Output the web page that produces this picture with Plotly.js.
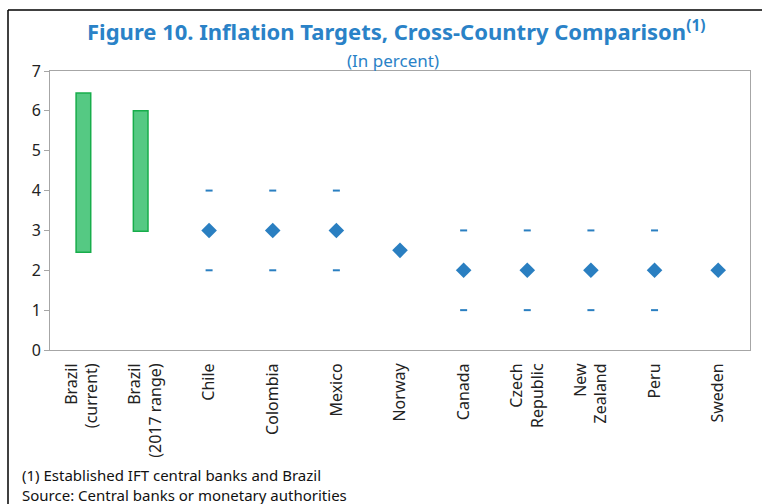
<!DOCTYPE html>
<html>
<head>
<meta charset="utf-8">
<script src="https://cdn.plot.ly/plotly-3.0.1.min.js"></script>
<style>html,body{margin:0;padding:0;background:#fff}#chart{width:762px;height:504px}</style>
</head>
<body>
<div id="chart"></div>
<script>
// Categories
const categories = ["Brazil<br>(current)", "Brazil<br>(2017 range)", "Chile", "Colombia", "Mexico", "Norway", "Canada", "Czech<br>Republic", "New<br>Zealand", "Peru", "Sweden"];
// Brazil range bars
const rangeCats = ["Brazil<br>(current)", "Brazil<br>(2017 range)"];
const rangeLow = [2.45, 2.98];
const rangeHigh = [6.45, 6.0];
// Point targets
const targetCats = ["Chile", "Colombia", "Mexico", "Norway", "Canada", "Czech<br>Republic", "New<br>Zealand", "Peru", "Sweden"];
const targetValues = [3, 3, 3, 2.5, 2, 2, 2, 2, 2];
// Tolerance bands
const bandCats = ["Chile", "Colombia", "Mexico", "Canada", "Czech<br>Republic", "New<br>Zealand", "Peru"];
const bandUpper = [4, 4, 4, 3, 3, 3, 3];
const bandLower = [2, 2, 2, 1, 1, 1, 1];

const blue = "#2a7fc1";
const font = "'Noto Sans', 'Open Sans', sans-serif";

const traces = [
  {
    type: "bar",
    x: rangeCats,
    y: rangeHigh.map((h, i) => h - rangeLow[i]),
    base: rangeLow,
    width: 0.23,
    offset: [-0.09, -0.19],
    marker: {color: "#55c983", line: {color: "#17ad4b", width: 1.5}},
    hoverinfo: "skip"
  },
  {
    type: "scatter", mode: "markers",
    x: targetCats, y: targetValues,
    marker: {symbol: "diamond", size: 12, color: blue}
  },
  {
    type: "scatter", mode: "markers",
    x: bandCats.concat(bandCats), y: bandUpper.concat(bandLower),
    marker: {symbol: "line-ew", size: 5, color: blue, line: {color: blue, width: 2}}
  }
];

const layout = {
  width: 762, height: 504,
  margin: {l: 50, r: 12, t: 71, b: 154},
  paper_bgcolor: "#fff", plot_bgcolor: "#fff",
  showlegend: false,
  font: {family: font, color: "#222"},
  title: {
    text: "<b>Figure 10. Inflation Targets, Cross-Country Comparison<sup>(1)</sup></b>",
    font: {family: font, size: 22, color: "#2a82c7"},
    x: 0.52, xanchor: "center", y: 0.935, yanchor: "middle"
  },
  xaxis: {
    type: "category", categoryorder: "array", categoryarray: categories,
    range: [-0.5, 10.5],
    tickangle: -90, tickfont: {size: 16, color: "#222"},
    ticklabelstandoff: 6,
    showline: true, linecolor: "#a6a6a6", linewidth: 1, mirror: true,
    ticks: "", showgrid: false, zeroline: false, fixedrange: true
  },
  yaxis: {
    range: [0, 7], dtick: 1, tick0: 0,
    tickfont: {size: 16, color: "#222"},
    ticks: "outside", ticklen: 5, tickcolor: "#a6a6a6",
    showline: true, linecolor: "#a6a6a6", linewidth: 1, mirror: true,
    showgrid: false, zeroline: false, fixedrange: true
  },
  annotations: [
    {text: "(In percent)", xref: "paper", yref: "paper", x: 0.49, y: 1.037, xanchor: "center", yanchor: "middle",
     showarrow: false, font: {family: font, size: 17, color: "#2a82c7"}},
    {text: "(1) Established IFT central banks and Brazil<br>Source: Central banks or monetary authorities",
     xref: "paper", yref: "paper", x: -0.043, y: -0.405, xanchor: "left", yanchor: "top", align: "left",
     showarrow: false, font: {family: font, size: 15, color: "#111"}}
  ],
  shapes: [
    {type: "line", xref: "paper", yref: "paper", x0: -0.06, x1: -0.06, y0: 1.2186, y1: -0.6, line: {color: "#000", width: 1.5}},
    {type: "line", xref: "paper", yref: "paper", x0: -0.06, x1: 1.02, y0: 1.2186, y1: 1.2186, line: {color: "#000", width: 1.5}}
  ]
};

Plotly.newPlot("chart", traces, layout, {displayModeBar: false, staticPlot: true});
</script>
</body>
</html>
